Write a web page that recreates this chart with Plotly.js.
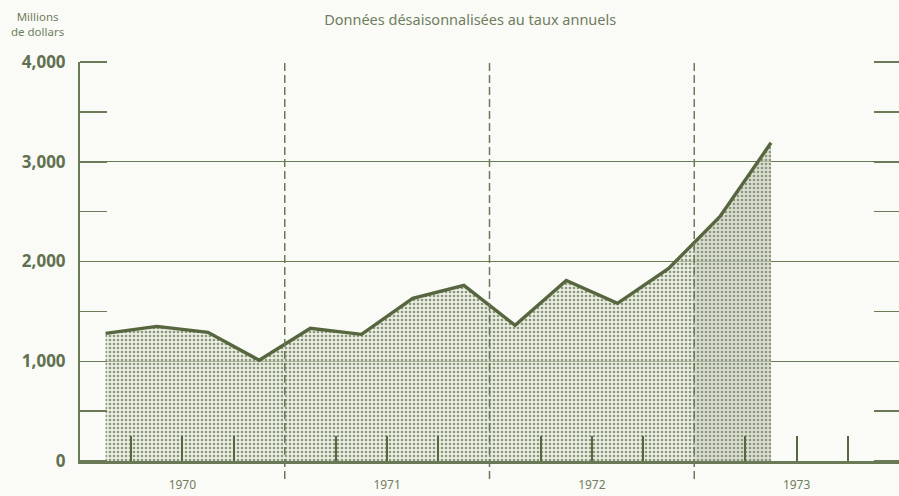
<!DOCTYPE html>
<html>
<head>
<meta charset="utf-8">
<script src="https://cdn.plot.ly/plotly-3.0.1.min.js"></script>
<style>html,body{margin:0;padding:0;background:#fafbf6;}</style>
</head>
<body>
<div id="chart" style="width:899px;height:496px;"></div>
<script>
// Quarterly data, millions of dollars (seasonally adjusted, annual rates)
const years = [1970, 1971, 1972, 1973];
const yearLabels = ["1970", "1971", "1972", "1973"];
const quarters = ["1970T1","1970T2","1970T3","1970T4",
                  "1971T1","1971T2","1971T3","1971T4",
                  "1972T1","1972T2","1972T3","1972T4",
                  "1973T1","1973T2"];
const values = [1280, 1350, 1290, 1010,
                1330, 1270, 1630, 1760,
                1360, 1810, 1580, 1930,
                2450, 3190];
const yTicks = [0, 1000, 2000, 3000, 4000];
const titleText = "Données désaisonnalisées au taux annuels";
const yLabelText = "Millions<br>de dollars";
const shadedFrom = 1973; // darker band for latest year

// quarter label -> decimal year at mid-quarter
function qPos(q) {
  const y = parseInt(q.slice(0, 4), 10);
  const n = parseInt(q.slice(5), 10);
  return y + (n - 0.5) / 4;
}
const xs = quarters.map(qPos);

// split fill at shadedFrom (value on the line at that x)
let splitIdx = xs.findIndex(x => x >= shadedFrom);
const xa = xs[splitIdx - 1], xb = xs[splitIdx];
const ya = values[splitIdx - 1], yb = values[splitIdx];
const ySplit = ya + (yb - ya) * (shadedFrom - xa) / (xb - xa);
const x1 = xs.slice(0, splitIdx).concat([shadedFrom]);
const y1 = values.slice(0, splitIdx).concat([ySplit]);
const x2 = [shadedFrom].concat(xs.slice(splitIdx));
const y2 = [ySplit].concat(values.slice(splitIdx));

const olive = "#56663f";
const axisCol = "#6a7a57";
const textCol = "#6f7d60";

const traces = [
  {x: x1, y: y1, type: "scatter", mode: "lines", fill: "tozeroy",
   line: {width: 0, color: "rgba(0,0,0,0)"},
   fillcolor: "rgba(0,0,0,0)",
   fillpattern: {shape: ".", size: 4, solidity: 0.35, fgcolor: "#8a977a", bgcolor: "rgba(222,228,210,0.55)"},
   hoverinfo: "skip", showlegend: false},
  {x: x2, y: y2, type: "scatter", mode: "lines", fill: "tozeroy",
   line: {width: 0, color: "rgba(0,0,0,0)"},
   fillcolor: "rgba(0,0,0,0)",
   fillpattern: {shape: ".", size: 4, solidity: 0.35, fgcolor: "#8a977a", bgcolor: "rgba(205,212,195,0.7)"},
   hoverinfo: "skip", showlegend: false},
  {x: xs, y: values, type: "scatter", mode: "lines",
   line: {width: 3.4, color: olive}, showlegend: false},
  {x: [], y: [], yaxis: "y2", type: "scatter", showlegend: false, hoverinfo: "skip"}
];

// quarter boundaries (not year boundaries) for small ticks
const qTicks = [];
years.forEach(y => { [0.25, 0.5, 0.75].forEach(f => qTicks.push(y + f)); });

const shapes = years.slice(1).map(y => ({
  type: "line", xref: "x", yref: "paper", x0: y, x1: y, y0: -0.045, y1: 1,
  line: {color: axisCol, width: 1.5, dash: "8px,4px"}, layer: "above"
}));

const layout = {
  width: 899, height: 496,
  margin: {l: 80, r: 0, t: 62, b: 35},
  paper_bgcolor: "#fafbf6", plot_bgcolor: "#fafbf6",
  showlegend: false,
  font: {family: "Noto Sans, DejaVu Sans, sans-serif", color: axisCol},
  xaxis: {
    range: [years[0], years[years.length - 1] + 1],
    tickmode: "array",
    tickvals: years.map(y => y + 0.5),
    ticktext: yearLabels,
    ticks: "", showgrid: false, zeroline: false,
    showline: true, linecolor: axisCol, linewidth: 2.5,
    tickfont: {size: 12, color: textCol, family: "Noto Sans, sans-serif"},
    ticklabelstandoff: 11,
    minor: {tickmode: "array", tickvals: qTicks, ticks: "inside", ticklen: 25,
            tickwidth: 2, tickcolor: olive, showgrid: false},
    fixedrange: true
  },
  yaxis: {
    range: [0, 4000],
    tickmode: "array", tickvals: yTicks,
    ticktext: yTicks.map(v => v.toLocaleString("en-US")),
    ticks: "", showgrid: true, gridcolor: axisCol, gridwidth: 1.4,
    zeroline: false, showline: true, linecolor: axisCol, linewidth: 2,
    tickfont: {size: 17, color: "#617150", family: "Noto Sans, sans-serif", weight: "bold"},
    ticklabelstandoff: 9,
    minor: {dtick: 500, tick0: 0, ticks: "inside", ticklen: 27, tickwidth: 1.5,
            tickcolor: axisCol, showgrid: false},
    fixedrange: true
  },
  yaxis2: {
    range: [0, 4000], overlaying: "y", side: "right",
    showticklabels: false, showgrid: false, zeroline: false, showline: false,
    tickmode: "array", tickvals: yTicks, ticks: "",
    minor: {dtick: 500, tick0: 0, ticks: "inside", ticklen: 25, tickwidth: 1.5,
            tickcolor: axisCol, showgrid: false},
    fixedrange: true
  },
  title: {
    text: titleText, x: 0.523, xanchor: "center", y: 0.96, yanchor: "middle",
    font: {size: 14.5, color: textCol, family: "Noto Sans, sans-serif"}
  },
  annotations: [{
    text: yLabelText, xref: "paper", yref: "paper", x: -0.052, y: 1.137,
    xanchor: "center", yanchor: "top", showarrow: false, align: "center",
    font: {size: 11.5, color: textCol, family: "Noto Sans, sans-serif"}
  }],
  shapes: shapes
};

Plotly.newPlot("chart", traces, layout, {displayModeBar: false, staticPlot: true});
</script>
</body>
</html>
